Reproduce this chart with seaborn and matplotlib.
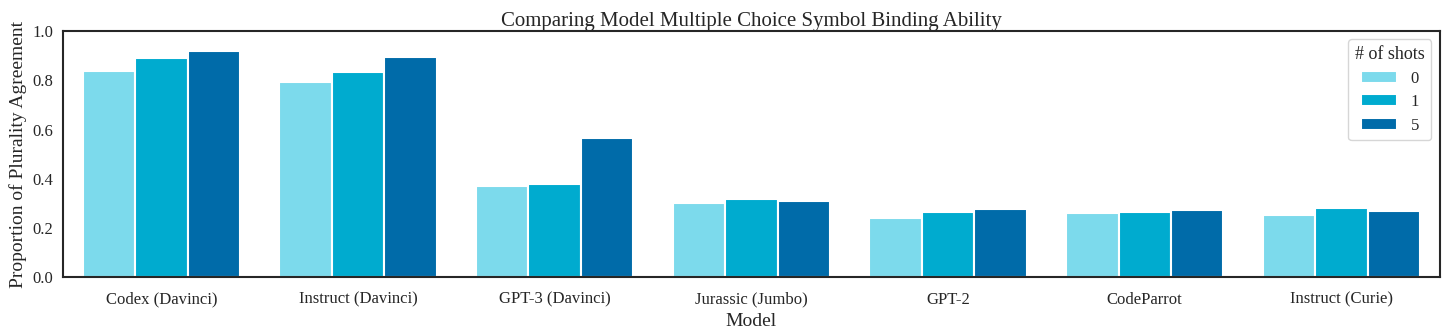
import numpy as np
import pandas as pd
import matplotlib
matplotlib.use("Agg")
import matplotlib.pyplot as plt
import seaborn as sns

models = ["Codex (Davinci)", "Instruct (Davinci)", "GPT-3 (Davinci)", "Jurassic (Jumbo)",
          "GPT-2", "CodeParrot", "Instruct (Curie)"]
shots = ["0", "1", "5"]
shot0 = [0.839, 0.795, 0.369, 0.301, 0.239, 0.259, 0.251]
shot1 = [0.892, 0.835, 0.378, 0.316, 0.265, 0.265, 0.280]
shot5 = [0.920, 0.896, 0.564, 0.308, 0.276, 0.272, 0.268]
colors = ["#7cdaec", "#00abcf", "#006ba9"]

df = pd.DataFrame({
    "Model": models * 3,
    "# of shots": [s for s in shots for _ in models],
    "agreement": shot0 + shot1 + shot5,
})

sns.set_style("white")
plt.rcParams["font.family"] = ["Liberation Serif", "DejaVu Serif"]

fig, ax = plt.subplots(figsize=(14.47, 3.34), dpi=100)
sns.barplot(data=df, x="Model", y="agreement", hue="# of shots", palette=colors,
            saturation=1, edgecolor="white", linewidth=1.5, ax=ax)

ax.set_ylim(0, 1.0)
ax.set_title("Comparing Model Multiple Choice Symbol Binding Ability", fontsize=15, pad=4)
ax.set_ylabel("Proportion of Plurality Agreement", fontsize=14)
ax.set_xlabel("Model", fontsize=14, labelpad=4)
ax.tick_params(labelsize=12)
ax.tick_params(axis="x", pad=7)
for s in ax.spines.values():
    s.set_color("#262626")
    s.set_linewidth(1.5)
ax.legend(title="# of shots", loc="upper right", fontsize=12, title_fontsize=13,
          handlelength=2.2, labelspacing=0.45)

fig.subplots_adjust(left=0.0435, right=0.995, top=0.907, bottom=0.17)
fig.savefig("out.png", dpi=100)
